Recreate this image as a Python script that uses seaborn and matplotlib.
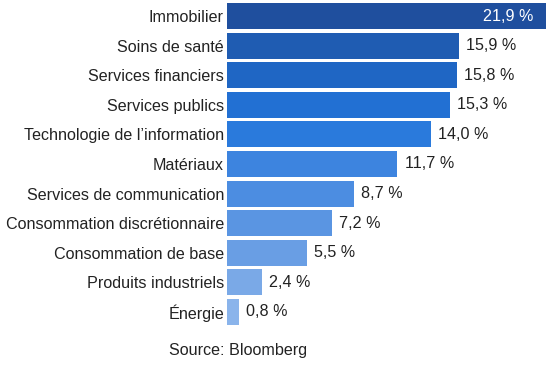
import pandas as pd
import seaborn as sns
import matplotlib.pyplot as plt

# Sector values (%)
sectors = ['Immobilier', 'Soins de santé', 'Services financiers', 'Services publics',
           "Technologie de l’information", 'Matériaux', 'Services de communication',
           'Consommation discrétionnaire', 'Consommation de base', 'Produits industriels',
           'Énergie']
values = [21.9, 15.9, 15.8, 15.3, 14.0, 11.7, 8.7, 7.2, 5.5, 2.4, 0.8]
colors = ['#1f4f9e', '#1f5cb2', '#1f66c4', '#2270d3', '#2a7adc', '#3d84df',
          '#4c8de1', '#5a95e2', '#699ee4', '#7aa9e7', '#8ab4eb']

data = pd.DataFrame({'sector': sectors, 'value': values})

sns.set_style('white')
plt.rcParams['font.family'] = ['Liberation Sans', 'DejaVu Sans']

fig = plt.figure(figsize=(5.55, 3.66), dpi=100)
ax = fig.add_axes([227 / 555, 1 - 325 / 366, (546 - 227) / 555, 322 / 366])

sns.barplot(data=data, x='value', y='sector', hue='sector', palette=colors,
            saturation=1, width=0.88, legend=False, ax=ax, edgecolor='none')

ax.set_xlim(0, 21.9)
ax.set_ylim(10.44, -0.44)
ax.set_xlabel('')
ax.set_ylabel('')
ax.set_xticks([])
ax.tick_params(axis='y', length=0, pad=2.2, labelsize=11.6, labelcolor='#222222')
sns.despine(ax=ax, left=True, bottom=True)

# Value labels: first one inside the bar in white, others right of the bar
for i, v in enumerate(values):
    txt = f'{v:.1f} %'.replace('.', ',')
    if i == 0:
        ax.text(v - 0.9, i, txt, ha='right', va='center', color='white', fontsize=11.6)
    else:
        ax.text(v + 0.5, i, txt, ha='left', va='center', color='#222222', fontsize=11.6)

fig.text(238 / 555, 1 - 351 / 366, 'Source: Bloomberg', ha='center', va='center',
         fontsize=11.6, color='#222222')

fig.savefig('out.png', dpi=100)
